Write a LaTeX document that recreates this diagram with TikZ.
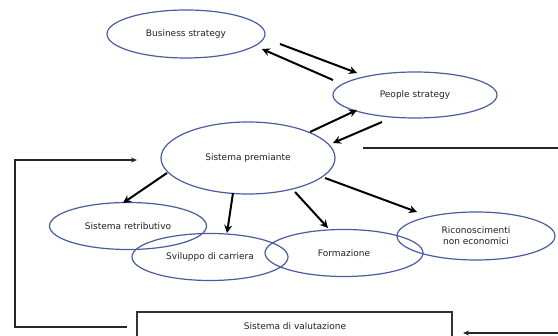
\documentclass[tikz,border=0pt]{standalone}
\usepackage{fontspec}
\setmainfont{DejaVu Sans}
\usetikzlibrary{shapes.geometric,arrows.meta}
\definecolor{ellblue}{HTML}{4A5C9E}
\definecolor{txt}{HTML}{202020}
\tikzset{
  oval/.style={ellipse, draw=ellblue, line width=1.2pt, inner sep=0pt,
    font=\fontsize{9}{11}\selectfont, text=txt, align=center},
  flow/.style={-{Stealth[length=8pt,width=8pt]}, line width=2pt, black},
  loop/.style={line width=1.4pt, black!85},
  frame/.style={draw=black!80, line width=1.8pt}
}
\begin{document}
\begin{tikzpicture}[x=1pt,y=-1pt]
\useasboundingbox (0,0) rectangle (558,336);

% strategy and reward system
\node[oval, minimum width=158, minimum height=48] (bs) at (186,34) {Business strategy};
\node[oval, minimum width=164, minimum height=46] (ps) at (415,95) {People strategy};
\node[oval, minimum width=174, minimum height=72] (sp) at (248,158) {Sistema premiante};

% components of the reward system
\node[oval, minimum width=157, minimum height=47] (sr) at (128,226) {Sistema retributivo};
\node[oval, minimum width=156, minimum height=47] (sc) at (210,257) {Sviluppo di carriera};
\node[oval, minimum width=158, minimum height=47] (fo) at (344,253) {Formazione};
\node[oval, minimum width=158, minimum height=48] (rn) at (476,236) {Riconoscimenti\\non economici};

% evaluation system (box runs past the lower edge)
\draw[frame] (137,345) |- (452,312) -- (452,345);
\node[font=\fontsize{9}{11}\selectfont, text=txt] (sv) at (295,326) {Sistema di valutazione};

% strategy links
\draw[flow] (280,44) -- (357,73);
\draw[flow] (333,80) -- (262,49);
\draw[flow] (310,132) -- (357,110);
\draw[flow] (382,122) -- (333,143);

% reward system to its components
\draw[flow] (167,173) -- (123,203);
\draw[flow] (233,193) -- (227,233);
\draw[flow] (295,192) -- (328,228);
\draw[flow] (325,178) -- (417,212);

% feedback loops
\coordinate (la) at (127,327);
\coordinate (lb) at (15,327);
\coordinate (lc) at (15,160);
\coordinate (ld) at (137,160);
\draw[loop, -{Stealth[length=6pt,width=5pt]}] (la) -- (lb) -- (lc) -- (ld);

\coordinate (ra) at (363,148);
\coordinate (rb) at (560,148);
\draw[loop] (ra) -- (rb);

\coordinate (rc) at (560,333);
\coordinate (rd) at (463,333);
\draw[loop, -{Stealth[length=6pt,width=5pt]}] (rc) -- (rd);
\end{tikzpicture}
\end{document}
